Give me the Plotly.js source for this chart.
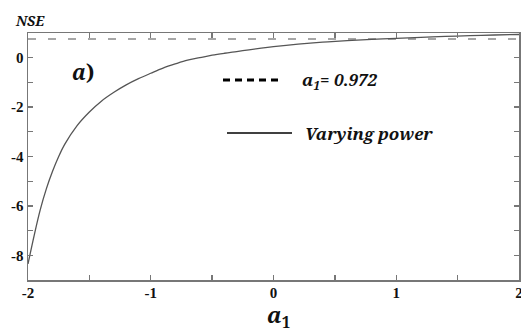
<!DOCTYPE html>
<html><head><meta charset="utf-8">
<script src="https://cdn.plot.ly/plotly-3.0.1.min.js"></script>
<style>html,body{margin:0;padding:0;background:#fff}#c{width:521px;height:331px}</style>
</head><body><div id="c"></div>
<script>
const a1Values = [-2.0,-1.95,-1.9,-1.85,-1.8,-1.75,-1.7,-1.6,-1.5,-1.4,-1.3,-1.2,-1.1,-1.0,-0.9,-0.8,-0.7,-0.6,-0.5,-0.4,-0.3,-0.2,-0.1,0.0,0.2,0.4,0.6,0.8,1.0,1.2,1.4,1.6,1.8,2.0];
const nseVarying = [-8.35,-7.2,-6.15,-5.3,-4.6,-4.0,-3.5,-2.75,-2.2,-1.75,-1.4,-1.1,-0.85,-0.63,-0.42,-0.25,-0.1,0.0,0.1,0.18,0.25,0.32,0.39,0.45,0.55,0.63,0.69,0.74,0.78,0.82,0.86,0.89,0.92,0.94];
const nseConstant = 0.76;
const constLabel = "a<sub>1</sub>= 0.972";
const varLabel = "Varying power";
const xTickVals = [-2,-1.5,-1,-0.5,0,0.5,1,1.5,2];
const xTickText = ["-2","","-1","","0","","1","","2"];
const yTickVals = [-8,-7,-6,-5,-4,-3,-2,-1,0];
const yTickText = ["-8","","-6","","-4","","-2","","0"];

const serif = 'Liberation Serif';
const serifBI = 'Noto Serif';
const traces = [
  {x:[a1Values[0], a1Values[a1Values.length-1]], y:[nseConstant,nseConstant], mode:'lines',
   line:{color:'#8a8a8a', width:1.6, dash:'8px,12px'}, showlegend:false, hoverinfo:'skip'},
  {x:a1Values, y:nseVarying, mode:'lines', line:{color:'#555', width:1.3, shape:'spline'},
   showlegend:false}
];
const axisCommon = {showgrid:false, zeroline:false, showline:true, linecolor:'#777', linewidth:1.5,
  mirror:'ticks', ticks:'inside', ticklen:5, tickcolor:'#777', tickwidth:1.3, ticklabeloverflow:'allow',
  tickfont:{family:serif, size:15, color:'#111'}};
const bold = t => t ? '<b>' + t + '</b>' : '';
const layout = {
  width:521, height:331, margin:{l:28, r:2, t:33, b:51},
  paper_bgcolor:'#fff', plot_bgcolor:'#fff', showlegend:false,
  xaxis:Object.assign({}, axisCommon, {range:[-2,2], tickmode:'array', tickvals:xTickVals, ticktext:xTickText.map(bold), ticklabelstandoff:-2}),
  yaxis:Object.assign({}, axisCommon, {range:[-9,1], tickmode:'array', tickvals:yTickVals, ticktext:yTickText.map(bold), ticklabelstandoff:0}),
  shapes:[
    {type:'line', xref:'paper', yref:'paper', x0:(223-28)/491, x1:(283-28)/491, y0:(280-80)/247, y1:(280-80)/247,
     line:{color:'#000', width:3, dash:'7px,5px'}},
    {type:'line', xref:'paper', yref:'paper', x0:(227-28)/491, x1:(292-28)/491, y0:(280-133)/247, y1:(280-133)/247,
     line:{color:'#000', width:1.3}}
  ],
  annotations:[
    {text:'<b><i>NSE</i></b>', xref:'paper', yref:'paper', x:(13-28)/491, y:(280-20)/247, xanchor:'left', yanchor:'middle',
     showarrow:false, font:{family:serifBI, size:14, color:'#111'}},
    {text:'<b><i>a</i>)</b>', xref:'paper', yref:'paper', x:(70-28)/491, y:(280-72)/247, xanchor:'left', yanchor:'middle',
     showarrow:false, font:{family:serifBI, size:21, color:'#111'}},
    {text:'<b><i>' + constLabel + '</i></b>', xref:'paper', yref:'paper', x:(300-28)/491, y:(280-80)/247, xanchor:'left', yanchor:'middle',
     showarrow:false, font:{family:serifBI, size:17, color:'#111'}},
    {text:'<b><i>' + varLabel + '</i></b>', xref:'paper', yref:'paper', x:(303-28)/491, y:(280-133)/247, xanchor:'left', yanchor:'middle',
     showarrow:false, font:{family:serifBI, size:17, color:'#111'}},
    {text:'<b><i>a</i><sub>1</sub></b>', xref:'paper', yref:'paper', x:(265-28)/491, y:(280-316)/247, xanchor:'left', yanchor:'middle',
     showarrow:false, font:{family:serifBI, size:22, color:'#111'}}
  ]
};
Plotly.newPlot('c', traces, layout, {staticPlot:true, displayModeBar:false});
</script></body></html>
